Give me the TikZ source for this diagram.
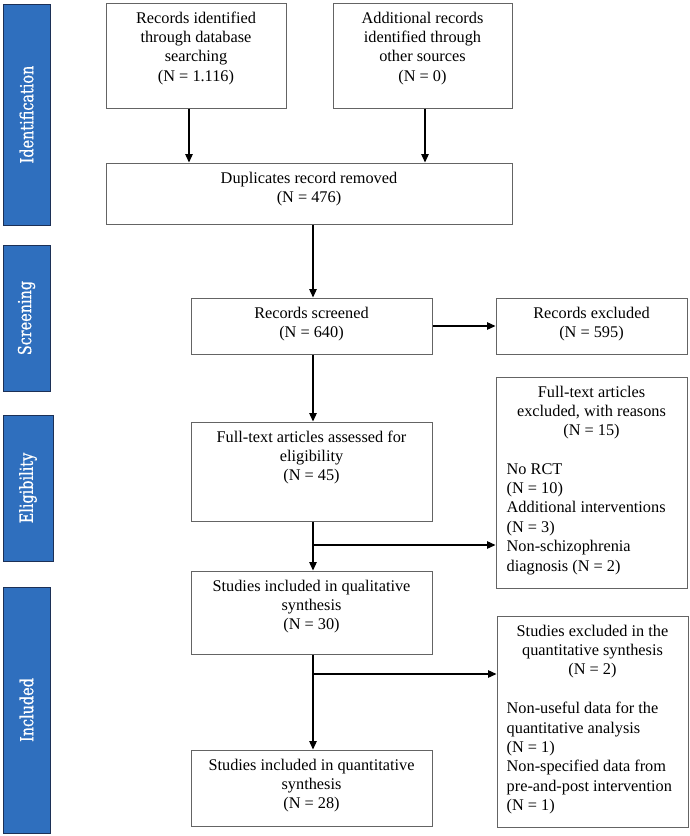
\documentclass[tikz,border=0pt]{standalone}
\usepackage{fontspec}
\setmainfont{Liberation Serif}
\newfontfamily\barfont[FakeStretch=0.8,FakeBold=0.6]{DejaVu Serif}
\usetikzlibrary{arrows.meta}
\definecolor{barblue}{RGB}{47,111,190}
\definecolor{barline}{RGB}{28,48,86}
\definecolor{boxline}{RGB}{100,100,100}
\begin{document}
\begin{tikzpicture}[x=1pt,y=-1pt,
  box/.style={draw=boxline, line width=1pt, fill=white, inner sep=0pt, rectangle},
  txt/.style={font=\fontsize{16.3}{19.4}\selectfont, align=center, inner sep=0pt, anchor=north},
  ltxt/.style={font=\fontsize{16.3}{19.4}\selectfont, align=left, inner sep=0pt, anchor=north west},
  bar/.style={draw=barline, line width=0.9pt, fill=barblue, text=white, rotate=90, inner sep=0pt,
    font=\barfont\fontsize{18}{20}\selectfont},
  arr/.style={draw=black, line width=1.3pt, -{Triangle[length=8.5pt,width=7.5pt]}}
]
\useasboundingbox (0,0) rectangle (690,836);
\fill[white] (0,0) rectangle (690,836);

% phase bars
\node[bar, minimum width=221, minimum height=47] (bid) at (26.5,114.5) {Identification};
\node[bar, minimum width=146, minimum height=47] (bsc) at (26.5,318) {Screening};
\node[bar, minimum width=146, minimum height=50] (bel) at (28,488) {Eligibility};
\node[bar, minimum width=246, minimum height=47] (bin) at (26.5,710) {Included};

% boxes
\node[box, minimum width=180, minimum height=105] (A) at (196,55.5) {};
\node[box, minimum width=179, minimum height=105] (B) at (422.5,55.5) {};
\node[box, minimum width=406, minimum height=61] (C) at (309,193.5) {};
\node[box, minimum width=241, minimum height=56] (D) at (311.5,326) {};
\node[box, minimum width=191, minimum height=56] (E) at (591.5,326) {};
\node[box, minimum width=241, minimum height=99] (F) at (311.5,471.5) {};
\node[box, minimum width=191, minimum height=211] (G) at (591.5,482.5) {};
\node[box, minimum width=241, minimum height=83] (H) at (311.5,612.5) {};
\node[box, minimum width=191, minimum height=211] (I) at (592.5,721.5) {};
\node[box, minimum width=241, minimum height=76] (J) at (311.5,788) {};

% texts
\node[txt] (tA) at ([yshift=-9pt]A.north) {Records identified\\through database\\searching\\(N = 1.116)};
\node[txt] (tB) at ([yshift=-9pt]B.north) {Additional records\\identified through\\other sources\\(N = 0)};
\node[txt] (tC) at ([yshift=-9pt]C.north) {Duplicates record removed\\(N = 476)};
\node[txt] (tD) at ([yshift=-9pt]D.north) {Records screened\\(N = 640)};
\node[txt] (tE) at ([yshift=-9pt]E.north) {Records excluded\\(N = 595)};
\node[txt] (tF) at ([yshift=-9pt]F.north) {Full-text articles assessed for\\eligibility\\(N = 45)};
\node[txt] (tG) at ([yshift=-9pt]G.north) {Full-text articles\\excluded, with reasons\\(N = 15)};
\node[ltxt] (lG) at ([xshift=11pt,yshift=-86.6pt]G.north west) {No RCT\\(N = 10)\\Additional interventions\\(N = 3)\\Non-schizophrenia\\diagnosis (N = 2)};
\node[txt] (tH) at ([yshift=-9pt]H.north) {Studies included in qualitative\\synthesis\\(N = 30)};
\node[txt] (tI) at ([yshift=-9pt]I.north) {Studies excluded in the\\quantitative synthesis\\(N = 2)};
\node[ltxt] (lI) at ([xshift=10pt,yshift=-86.6pt]I.north west) {Non-useful data for the\\quantitative analysis\\(N = 1)\\Non-specified data from\\pre-and-post intervention\\(N = 1)};
\node[txt] (tJ) at ([yshift=-9pt]J.north) {Studies included in quantitative\\synthesis\\(N = 28)};

% connectors
\coordinate (spine) at (313,0);
\coordinate (b1) at (313,545);
\coordinate (b2) at (313,674);
\draw[arr] ([xshift=-7pt]A.south) -- ([xshift=-7pt]A.south |- C.north);
\draw[arr] ([xshift=2.5pt]B.south) -- ([xshift=2.5pt]B.south |- C.north);
\draw[arr] (C.south -| spine) -- (D.north -| spine);
\draw[arr] (D.east) -- (D.east -| E.west);
\draw[arr] (D.south -| spine) -- (F.north -| spine);
\draw[arr] (F.south -| spine) -- (H.north -| spine);
\draw[arr] (b1) -- (b1 -| G.west);
\draw[arr] (H.south -| spine) -- (J.north -| spine);
\draw[arr] (b2) -- (b2 -| I.west);
\end{tikzpicture}
\end{document}
